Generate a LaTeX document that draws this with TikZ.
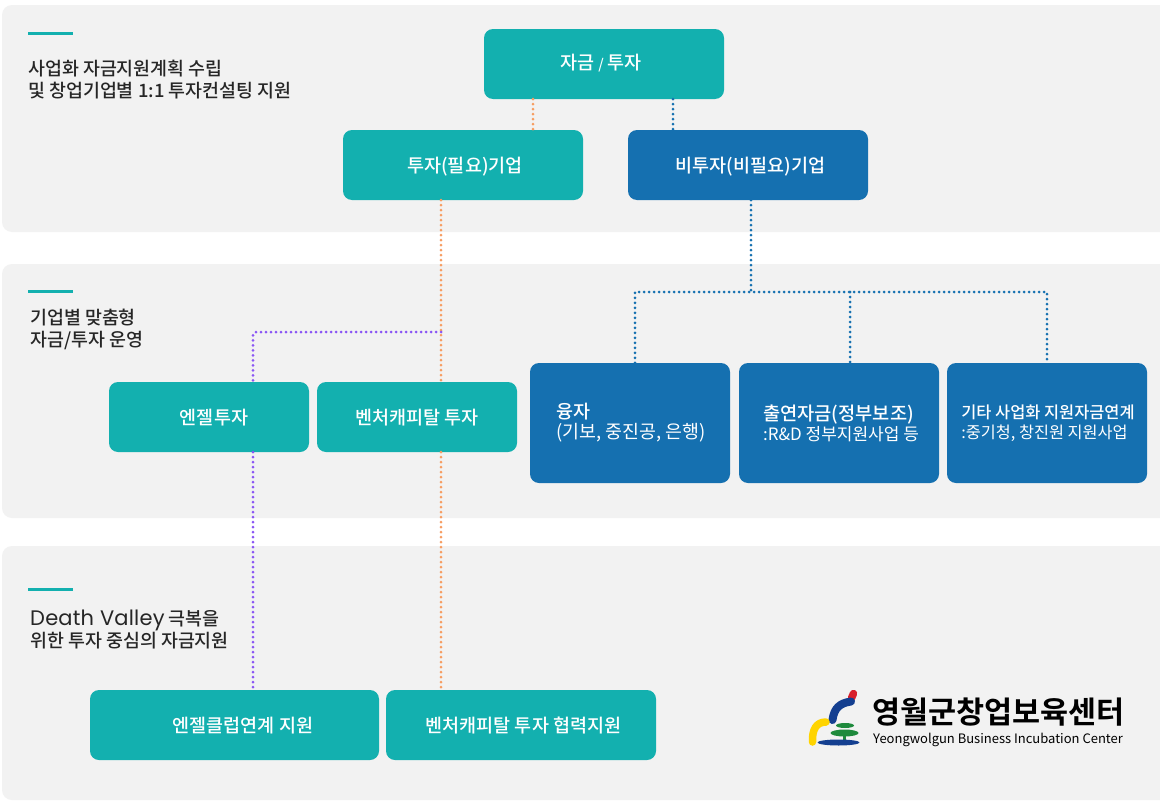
\documentclass[tikz,border=0pt]{standalone}
\usepackage{fontspec}
\setmainfont[BoldFont={Noto Sans CJK KR Medium}]{Noto Sans CJK KR}
\newfontfamily\latinfont[LetterSpace=1]{Poppins}
\newfontfamily\logofont{Noto Sans CJK KR Bold}
\definecolor{panelgray}{HTML}{F2F2F2}
\definecolor{tealbox}{HTML}{13B0AF}
\definecolor{bluebox}{HTML}{1570B0}
\definecolor{orangedot}{HTML}{F79D62}
\definecolor{purpledot}{HTML}{8A55F5}
\definecolor{logored}{HTML}{D8202C}
\definecolor{logoblue}{HTML}{143F90}
\definecolor{logoyellow}{HTML}{FFD400}
\definecolor{logogreen}{HTML}{1E8A3C}
\tikzset{
    box/.style={rectangle,rounded corners=9pt,text=white,inner sep=0pt,align=center,
        font=\fontsize{18.5}{22}\selectfont\bfseries},
    tealnode/.style={box,fill=tealbox,text height=16pt,text depth=2pt},
    bluenode/.style={box,fill=bluebox,text height=16pt,text depth=2pt},
    infonode/.style={box,fill=bluebox,align=left,minimum width=200pt,minimum height=120pt},
    caption/.style={anchor=west,align=left,inner sep=0pt,text=black!85,
        font=\fontsize{18.4}{22}\selectfont\bfseries},
    dotline/.style={line width=3pt,line cap=round,dash pattern=on 0pt off 5pt},
}
\newcommand{\subline}[2]{\\[-2pt]{\fontsize{#1}{19}\selectfont\mdseries #2}}
\begin{document}
\begin{tikzpicture}[x=1pt,y=-1pt]
    \useasboundingbox (0,0) rectangle (1160,811);
    \fill[white] (0,0) rectangle (1160,811);

    % panels and their short bars
    \begin{scope}
        \clip (0,0) rectangle (1160,811);
        \foreach \top/\bottom in {5/232,264/518,546/800}{
            \fill[panelgray,rounded corners=10pt] (2,\top) rectangle (1180,\bottom);
        }
    \end{scope}
    \foreach \y in {33,291,589}{
        \fill[tealbox] (28,\y - 1.5) rectangle (73,\y + 1.5);
    }

    \node[caption] (cap1) at (28,80) {사업화 자금지원계획 수립\\및 창업기업별 1:1 투자컨설팅 지원};
    \node[caption] (cap2) at (30,329) {기업별 맞춤형\\자금/투자 운영};
    \node[caption] (cap3) at (30,629) {{\latinfont\mdseries\fontsize{21}{22}\selectfont Death Valley} 극복을\\위한 투자 중심의 자금지원};

    % boxes
    \node[tealnode,minimum width=240pt,minimum height=70pt] (fund) at (604,64) {\raisebox{2pt}{\hspace*{-6pt}자금 {\fontsize{14}{14}\selectfont /} 투자}};
    \node[tealnode,minimum width=240pt,minimum height=70pt] (invest) at (463,165) {\hspace*{4pt}투자(필요)기업};
    \node[bluenode,minimum width=240pt,minimum height=70pt] (noninvest) at (748,165) {\hspace*{5pt}비투자(비필요)기업};

    \node[tealnode,minimum width=200pt,minimum height=70pt] (angel) at (209,417) {\hspace*{10pt}엔젤투자};
    \node[tealnode,minimum width=200pt,minimum height=70pt] (vc) at (417,417) {벤처캐피탈 투자};
    \node[tealnode,minimum width=289pt,minimum height=70pt] (angelclub) at (234.5,725) {\hspace*{17pt}엔젤클럽연계 지원};
    \node[tealnode,minimum width=270pt,minimum height=70pt] (vcclub) at (521,725) {\hspace*{5pt}벤처캐피탈 투자 협력지원};

    \node[infonode] (loan) at (630,423) {\hspace*{2pt}융자\subline{18.4}{\hspace*{2pt}(기보, 중진공, 은행)}};
    \node[infonode,font=\fontsize{18.7}{22}\selectfont\bfseries] (grant) at (839,423) {\hspace*{4pt}출연자금(정부보조)\subline{17}{\hspace*{4pt}:R\&D 정부지원사업 등}};
    \node[infonode,font=\fontsize{16.4}{22}\selectfont\bfseries] (other) at (1047,423) {\hspace*{2pt}기타 사업화 지원자금연계\subline{16.3}{\hspace*{2pt}:중기청, 창진원 지원사업}};

    % connector bends and drops
    \coordinate (fundleft) at (533,115);
    \coordinate (fundright) at (673,115);
    \coordinate (vcdrop) at (441,332);
    \coordinate (angeldrop) at (253,332);
    \coordinate (splitmid) at (751,292);
    \coordinate (splitleft) at (635,292);
    \coordinate (splitcenter) at (850,292);
    \coordinate (splitright) at (1047,292);

    \draw[dotline,orangedot] (fund.south -| fundleft) -- (invest.north -| fundleft);
    \draw[dotline,bluebox] (fund.south -| fundright) -- (noninvest.north -| fundright);

    \draw[dotline,orangedot] (invest.south -| vcdrop) -- (vc.north -| vcdrop);
    \draw[dotline,orangedot] (vc.south -| vcdrop) -- (vcclub.north -| vcdrop);
    \draw[dotline,purpledot,rounded corners=3pt] (vcdrop) -- (angeldrop) -- (angel.north -| angeldrop);
    \draw[dotline,purpledot] (angel.south -| angeldrop) -- (angelclub.north -| angeldrop);

    \draw[dotline,bluebox] (noninvest.south -| splitmid) -- (splitmid);
    \draw[dotline,bluebox] (loan.north -| splitleft) -- (splitleft) -- (splitright) -- (other.north -| splitright);
    \draw[dotline,bluebox] (splitcenter) -- (grant.north -| splitcenter);

    % logo mark
    \draw[line width=7.5pt,line cap=round,color=logored] (853.5,693.5) -- (851.5,698);
    \draw[line width=8pt,line cap=round,color=logoblue] (851,701.5) .. controls (840,703) and (834,708) .. (832.5,720);
    \draw[line width=7.5pt,line cap=round,color=logoyellow] (826,722) .. controls (816,722) and (812,730) .. (812.5,742);
    \fill[logogreen] (845,725.5) ellipse (9pt and 2.5pt);
    \fill[logogreen] (844.5,733) ellipse (14pt and 3.5pt);
    \fill[logogreen] (843,736) rectangle (846,741);
    \fill[logoblue] (838.5,742.5) ellipse (21pt and 3pt);

    \node[anchor=west,inner sep=0pt,font=\logofont\fontsize{30.5}{30}\selectfont] (logoname) at (872,712) {영월군창업보육센터};
    \node[anchor=west,inner sep=0pt,font=\fontsize{13}{13}\selectfont] (logoeng) at (873,739.5) {Yeongwolgun Business Incubation Center};
\end{tikzpicture}
\end{document}
